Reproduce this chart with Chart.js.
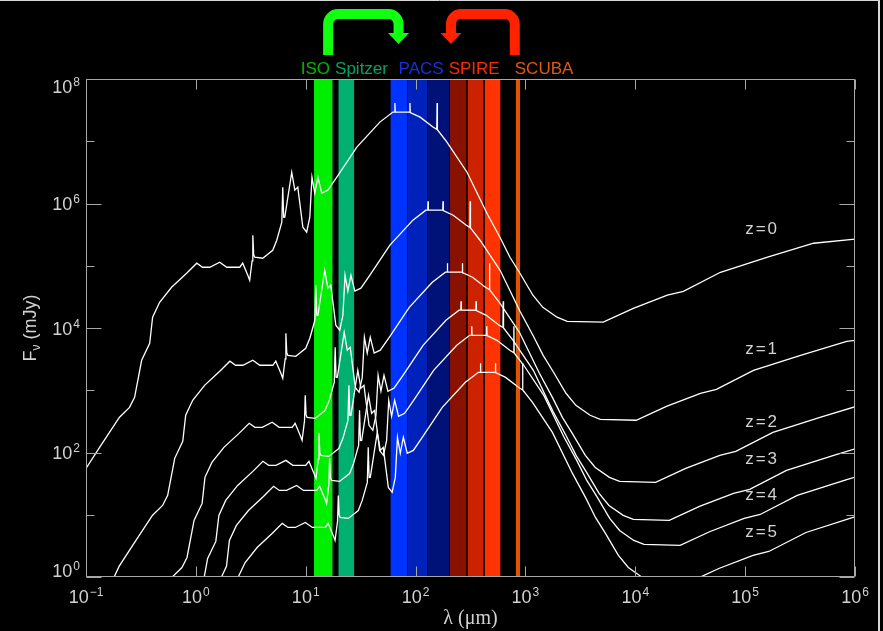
<!DOCTYPE html>
<html>
<head>
<meta charset="utf-8">
<title>Starburst SED at z = 0 - 5 with ISO / Spitzer / PACS / SPIRE / SCUBA bands</title>
<script src="https://cdn.jsdelivr.net/npm/chart.js@4.4.1/dist/chart.umd.min.js"></script>
<style>
  html, body { margin: 0; padding: 0; background: #000; }
  canvas { display: block; }
</style>
</head>
<body>
<canvas id="sed-chart" width="883" height="631"></canvas>
<script>
// SED curves: wavelength (um) and flux density (mJy)
const z0Wave = [0.1, 0.133, 0.201, 0.249, 0.277, 0.321, 0.380, 0.404, 0.468, 0.601, 0.824, 1.02, 1.15, 1.34, 1.65, 1.91, 2.51, 2.67, 2.97, 3.09, 3.25, 3.30, 3.36, 3.44, 4.06, 5.01, 5.45, 6.06, 6.18, 6.30, 6.45, 7.46, 7.96, 8.47, 9.42, 10.2, 10.9, 11.4, 12.1, 12.9, 14.0, 15.9, 19.2, 29.2, 47.3, 62.2, 64.5, 64.9, 65.3, 88.4, 88.9, 89.4, 110, 144, 156, 157, 158, 193, 294, 446, 586, 723, 891, 1170, 1440, 1940, 2400, 5110, 9600, 19600, 27400, 59600, 160000, 420000, 1000000];
const z0Flux = [55.5, 121, 366, 531, 769, 3030, 5680, 14900, 25900, 45100, 75800, 110000, 94600, 94600, 114000, 94600, 94600, 110000, 70300, 58500, 120000, 309000, 150000, 137000, 132000, 177000, 257000, 500000, 1830000, 600000, 602000, 3180000, 1640000, 1830000, 416000, 346000, 602000, 2650000, 1470000, 2650000, 1470000, 1640000, 2650000, 8040000, 20300000, 29400000, 29500000, 41000000, 29500000, 29400000, 41000000, 29000000, 24400000, 16900000, 15500000, 41000000, 15300000, 9680000, 3180000, 698000, 287000, 137000, 75800, 33600, 21500, 14900, 12800, 12400, 20700, 33600, 38900, 78500, 137000, 230000, 267000];

const z1Wave = [0.17, 0.2, 0.266, 0.402, 0.498, 0.554, 0.642, 0.76, 0.808, 0.936, 1.2, 1.65, 2.04, 2.3, 2.68, 3.3, 3.82, 5.02, 5.34, 5.94, 6.18, 6.5, 6.6, 6.72, 6.88, 8.12, 10.0, 10.9, 12.12, 12.36, 12.6, 12.9, 14.9, 15.9, 16.9, 18.8, 20.4, 21.8, 22.8, 24.2, 25.8, 28.0, 31.8, 38.4, 58.4, 94.6, 124, 129, 129.8, 130.6, 176.8, 177.8, 178.8, 220, 288, 312, 314, 316, 386, 588, 892, 1170, 1450, 1780, 2340, 2880, 3880, 4800, 10200, 19200, 39200, 54800, 119000, 320000, 840000, 2000000];
const z1Flux = [0.8, 1.48, 3.22, 9.74, 14.1, 20.5, 80.6, 151, 396, 689, 1200, 2020, 2930, 2520, 2520, 3030, 2520, 2520, 2930, 1870, 1560, 3190, 8220, 3990, 3640, 3510, 4710, 6840, 13300, 48700, 16000, 16000, 84600, 43600, 48700, 11100, 9200, 16000, 70500, 39100, 70500, 39100, 43600, 70500, 214000, 540000, 782000, 785000, 1090000, 785000, 782000, 1090000, 771000, 649000, 450000, 412000, 1090000, 407000, 257000, 84600, 18600, 7630, 3640, 2020, 894, 572, 396, 340, 330, 551, 894, 1030, 2090, 3640, 6120, 7100];

const z2Wave = [0.3, 0.399, 0.603, 0.747, 0.831, 0.963, 1.14, 1.21, 1.40, 1.80, 2.47, 3.06, 3.45, 4.02, 4.95, 5.73, 7.53, 8.01, 8.91, 9.27, 9.75, 9.9, 10.08, 10.3, 12.2, 15.0, 16.4, 18.18, 18.54, 18.9, 19.4, 22.4, 23.9, 25.4, 28.3, 30.6, 32.7, 34.2, 36.3, 38.7, 42.0, 47.7, 57.6, 87.6, 142, 187, 193.5, 194.7, 195.9, 265.2, 266.7, 268.2, 330, 432, 468, 471, 474, 579, 882, 1340, 1760, 2170, 2670, 3510, 4320, 5820, 7200, 15300, 28800, 58800, 82200, 179000, 480000, 1260000, 3000000];
const z2Flux = [0.149, 0.324, 0.981, 1.42, 2.06, 8.12, 15.2, 39.9, 69.4, 121, 203, 295, 254, 254, 306, 254, 254, 295, 188, 157, 322, 828, 402, 367, 354, 474, 689, 1340, 4900, 1610, 1610, 8520, 4400, 4900, 1110, 927, 1610, 7100, 3940, 7100, 3940, 4400, 7100, 21500, 54400, 78800, 79100, 110000, 79100, 78800, 110000, 77700, 65400, 45300, 41500, 110000, 41000, 25900, 8520, 1870, 769, 367, 203, 90.0, 57.6, 39.9, 34.3, 33.2, 55.5, 90.0, 104, 210, 367, 616, 716];

const z3Wave = [0.4, 0.532, 0.804, 0.996, 1.11, 1.28, 1.52, 1.62, 1.87, 2.40, 3.30, 4.08, 4.60, 5.36, 6.60, 7.64, 10.0, 10.7, 11.9, 12.4, 13.0, 13.2, 13.44, 13.8, 16.2, 20.0, 21.8, 24.24, 24.72, 25.2, 25.8, 29.8, 31.8, 33.9, 37.7, 40.8, 43.6, 45.6, 48.4, 51.6, 56.0, 63.6, 76.8, 117, 189, 249, 258, 259.6, 261.2, 353.6, 355.6, 357.6, 440, 576, 624, 628, 632, 772, 1180, 1780, 2340, 2890, 3560, 4680, 5760, 7760, 9600, 20400, 38400, 78400, 110000, 238000, 640000, 1680000, 4000000];
const z3Flux = [0.0364, 0.0794, 0.240, 0.348, 0.504, 1.99, 3.73, 9.77, 17.0, 29.6, 49.7, 72.2, 62.1, 62.1, 74.8, 62.1, 62.1, 72.2, 46.1, 38.4, 78.7, 203, 98.4, 89.9, 86.6, 116, 169, 328, 1200, 394, 395, 2090, 1080, 1200, 273, 227, 395, 1740, 964, 1740, 964, 1080, 1740, 5270, 13300, 19300, 19400, 26900, 19400, 19300, 26900, 19000, 16000, 11100, 10200, 26900, 10000, 6350, 2090, 458, 188, 89.9, 49.7, 22.0, 14.1, 9.77, 8.40, 8.13, 13.6, 22.0, 25.5, 51.5, 89.9, 151, 175];

const z4Wave = [0.5, 0.665, 1.005, 1.245, 1.385, 1.605, 1.90, 2.02, 2.34, 3.01, 4.12, 5.10, 5.75, 6.70, 8.25, 9.55, 12.6, 13.4, 14.9, 15.5, 16.25, 16.5, 16.8, 17.2, 20.3, 25.1, 27.3, 30.3, 30.9, 31.5, 32.3, 37.3, 39.8, 42.4, 47.1, 51.0, 54.5, 57.0, 60.5, 64.5, 70.0, 79.5, 96.0, 146, 237, 311, 322.5, 324.5, 326.5, 442, 444.5, 447, 550, 720, 780, 785, 790, 965, 1470, 2230, 2930, 3620, 4460, 5850, 7200, 9700, 12000, 25600, 48000, 98000, 137000, 298000, 800000, 2100000, 5000000];
const z4Flux = [0.0144, 0.0315, 0.0952, 0.138, 0.200, 0.788, 1.48, 3.87, 6.73, 11.7, 19.7, 28.6, 24.6, 24.6, 29.6, 24.6, 24.6, 28.6, 18.3, 15.2, 31.2, 80.3, 39.0, 35.6, 34.3, 46.0, 66.8, 130, 476, 156, 157, 827, 426, 476, 108, 90.0, 157, 689, 382, 689, 382, 426, 689, 2090, 5280, 7640, 7670, 10700, 7670, 7640, 10700, 7540, 6340, 4390, 4030, 10700, 3980, 2520, 827, 181, 74.6, 35.6, 19.7, 8.74, 5.59, 3.87, 3.33, 3.22, 5.38, 8.74, 10.1, 20.4, 35.6, 59.8, 69.4];

const z5Wave = [0.6, 0.798, 1.206, 1.494, 1.662, 1.926, 2.28, 2.42, 2.81, 3.61, 4.94, 6.12, 6.90, 8.04, 9.90, 11.5, 15.1, 16.0, 17.8, 18.5, 19.5, 19.8, 20.16, 20.6, 24.4, 30.1, 32.7, 36.36, 37.08, 37.8, 38.7, 44.8, 47.8, 50.8, 56.5, 61.2, 65.4, 68.4, 72.6, 77.4, 84.0, 95.4, 115, 175, 284, 373, 387, 389.4, 391.8, 530.4, 533.4, 536.4, 660, 864, 936, 942, 948, 1160, 1760, 2680, 3520, 4340, 5350, 7020, 8640, 11600, 14400, 30700, 57600, 118000, 164000, 358000, 960000, 2520000, 6000000];
const z5Flux = [0.00367, 0.0080, 0.0242, 0.0351, 0.0508, 0.200, 0.375, 0.985, 1.71, 2.98, 5.01, 7.27, 6.25, 6.25, 7.54, 6.25, 6.25, 7.27, 4.65, 3.87, 7.93, 20.4, 9.92, 9.06, 8.73, 11.7, 17.0, 33.1, 121, 39.7, 39.8, 210, 108, 121, 27.5, 22.9, 39.8, 175, 97.2, 175, 97.2, 108, 175, 531, 1340, 1940, 1950, 2710, 1950, 1940, 2710, 1920, 1610, 1120, 1020, 2710, 1010, 640, 210, 46.1, 19.0, 9.06, 5.01, 2.22, 1.42, 0.985, 0.846, 0.820, 1.37, 2.22, 2.57, 5.19, 9.06, 15.2, 17.6];

// filter bands (um)
const bandNames = ['ISO 15', 'MIPS 24', 'PACS 70', 'PACS 100', 'PACS 160', 'SPIRE 250', 'SPIRE 350', 'SPIRE 500', 'SCUBA 850'];
const bandLow = [11.9, 19.8, 59, 84, 128, 204, 297, 425, 815];
const bandHigh = [17.6, 27.7, 84, 128, 204, 291, 416, 594, 898];
const bandColors = ['#00ee00', '#00b070', '#0033ff', '#0022bb', '#001177', '#881100', '#cc2200', '#ff3300', '#dd5500'];

// instrument names over the plot
const instrumentNames = ['ISO', 'Spitzer', 'PACS', 'SPIRE', 'SCUBA'];
const instrumentWave = [9.0, 18.5, 70, 200, 800];
const instrumentColors = ['#00b800', '#00a468', '#1133e0', '#ff2a00', '#e05a10'];

// arrows: from band -> to band (um)
const arrowFrom = [16, 800];
const arrowTo = [70, 210];
const arrowColors = ['#11ff11', '#ff2200'];

// redshift labels
const redshiftNames = ['z=0', 'z=1', 'z=2', 'z=3', 'z=4', 'z=5'];
const redshiftLabelFlux = [386000, 4550, 305, 77.5, 20.4, 5.19];
const redshiftLabelWave = 100000;

// axes
const xTickExponents = [-1, 0, 1, 2, 3, 4, 5, 6];
const yTickExponents = [0, 1, 2, 3, 4, 5, 6, 7, 8];
const yLabelExponents = [0, 2, 4, 6, 8];

const textColor = '#d2d2d2';
const axisColor = '#a8a8a8';
const sans = '"Liberation Sans", Arial, sans-serif';

const curves = [[z0Wave, z0Flux], [z1Wave, z1Flux], [z2Wave, z2Flux], [z3Wave, z3Flux], [z4Wave, z4Flux], [z5Wave, z5Flux]];

const sedSets = curves.map((c, k) => ({
    label: redshiftNames[k],
    data: c[0].map((w, i) => ({ x: w, y: c[1][i] })),
    borderColor: '#ffffff',
    borderWidth: 1.3,
    pointRadius: 0,
    tension: 0,
    fill: false,
    order: 0
}));

const bandSets = bandLow.map((lo, i) => ({
    label: bandNames[i],
    data: [{ x: lo, y: 1e8 }, { x: bandHigh[i], y: 1e8 }],
    borderColor: 'rgba(0,0,0,0)',
    borderWidth: 0,
    backgroundColor: bandColors[i],
    pointRadius: 0,
    fill: 'start',
    order: 1
}));

function expText(e) {
    return e < 0 ? '\u2212' + (-e) : String(e);
}

// draws "10" with a raised exponent, returns nothing
function drawPower(ctx, e, xPos, base, align) {
    const sup = expText(e);
    ctx.font = '18px ' + sans;
    const wBase = ctx.measureText('10').width;
    ctx.font = '12px ' + sans;
    const wSup = ctx.measureText(sup).width;
    const total = wBase + 1 + wSup;
    const left = align === 'center' ? xPos - total / 2 : xPos - total;
    ctx.textAlign = 'left';
    ctx.textBaseline = 'alphabetic';
    ctx.font = '18px ' + sans;
    ctx.fillText('10', left, base);
    ctx.font = '12px ' + sans;
    ctx.fillText(sup, left + wBase + 1, base - 7);
}

const decorations = {
    id: 'decorations',
    beforeDraw(chart) {
        const ctx = chart.ctx;
        ctx.save();
        ctx.fillStyle = '#000';
        ctx.fillRect(0, 0, chart.width, chart.height);
        ctx.restore();
    },
    afterDraw(chart) {
        const ctx = chart.ctx;
        const a = chart.chartArea;
        const xs = chart.scales.x;
        const ys = chart.scales.y;
        const L = Math.round(a.left) + 0.5, R = Math.round(a.right) - 0.5;
        const T = Math.round(a.top) + 0.5, B = Math.round(a.bottom) - 0.5;
        ctx.save();

        // frame + inward ticks
        ctx.strokeStyle = axisColor;
        ctx.lineWidth = 1;
        ctx.beginPath();
        ctx.rect(L, T, R - L, B - T);
        xTickExponents.forEach(e => {
            const px = Math.round(xs.getPixelForValue(Math.pow(10, e))) + 0.5;
            ctx.moveTo(px, B); ctx.lineTo(px, B - 10);
            ctx.moveTo(px, T); ctx.lineTo(px, T + 10);
        });
        yTickExponents.forEach(e => {
            const py = Math.round(ys.getPixelForValue(Math.pow(10, e))) + 0.5;
            const len = e % 2 === 0 ? 15 : 8;
            ctx.moveTo(L, py); ctx.lineTo(L + len, py);
            ctx.moveTo(R, py); ctx.lineTo(R - len, py);
        });
        ctx.stroke();

        // tick labels
        ctx.fillStyle = textColor;
        xTickExponents.forEach(e => {
            drawPower(ctx, e, xs.getPixelForValue(Math.pow(10, e)), a.bottom + 26, 'center');
        });
        yLabelExponents.forEach(e => {
            const py = ys.getPixelForValue(Math.pow(10, e));
            const base = Math.min(Math.max(py + 6.5, a.top + 14), a.bottom);
            drawPower(ctx, e, a.left - 6, base, 'right');
        });

        // axis titles
        ctx.font = '20px "Liberation Serif", "Times New Roman", serif';
        ctx.textAlign = 'center';
        ctx.textBaseline = 'alphabetic';
        ctx.fillText('\u03bb (\u03bcm)', (a.left + a.right) / 2, a.bottom + 47);

        ctx.save();
        ctx.translate(36, (a.top + a.bottom) / 2);
        ctx.rotate(-Math.PI / 2);
        ctx.font = '18px ' + sans;
        const wF = ctx.measureText('F').width;
        const wRest = ctx.measureText(' (mJy)').width;
        ctx.font = '12px ' + sans;
        const wNu = ctx.measureText('\u03bd').width;
        let sx = -(wF + wNu + wRest) / 2;
        ctx.textAlign = 'left';
        ctx.font = '18px ' + sans;
        ctx.fillText('F', sx, 0);
        ctx.font = '12px ' + sans;
        ctx.fillText('\u03bd', sx + wF, 4);
        ctx.font = '18px ' + sans;
        ctx.fillText(' (mJy)', sx + wF + wNu, 0);
        ctx.restore();

        // redshift labels
        ctx.font = '17px ' + sans;
        ctx.textAlign = 'left';
        ctx.textBaseline = 'middle';
        if ('letterSpacing' in ctx) ctx.letterSpacing = '2px';
        redshiftNames.forEach((name, i) => {
            ctx.fillText(name, xs.getPixelForValue(redshiftLabelWave), ys.getPixelForValue(redshiftLabelFlux[i]));
        });
        if ('letterSpacing' in ctx) ctx.letterSpacing = '0px';

        // instrument names
        ctx.font = '17px ' + sans;
        ctx.textBaseline = 'alphabetic';
        instrumentNames.forEach((name, i) => {
            ctx.fillStyle = instrumentColors[i];
            ctx.fillText(name, xs.getPixelForValue(instrumentWave[i]), a.top - 5);
        });

        // arrows linking the instruments
        const stemBottom = a.top - 24, barY = a.top - 65, headBase = a.top - 46, tip = a.top - 35;
        const r = 10;
        arrowFrom.forEach((w, i) => {
            const x1 = xs.getPixelForValue(w);
            const x2 = xs.getPixelForValue(arrowTo[i]);
            const dir = x2 > x1 ? 1 : -1;
            ctx.strokeStyle = arrowColors[i];
            ctx.fillStyle = arrowColors[i];
            ctx.lineWidth = 10;
            ctx.lineCap = 'butt';
            ctx.beginPath();
            ctx.moveTo(x1, stemBottom);
            ctx.lineTo(x1, barY + r);
            ctx.arcTo(x1, barY, x1 + dir * r, barY, r);
            ctx.lineTo(x2 - dir * r, barY);
            ctx.arcTo(x2, barY, x2, barY + r, r);
            ctx.lineTo(x2, headBase + 0.5);
            ctx.stroke();
            ctx.beginPath();
            ctx.moveTo(x2 - 10.5, headBase);
            ctx.lineTo(x2 + 10.5, headBase);
            ctx.lineTo(x2, tip);
            ctx.closePath();
            ctx.fill();
        });

        // outer picture border (top and right)
        ctx.strokeStyle = '#d8d8d8';
        ctx.lineWidth = 1;
        ctx.beginPath();
        ctx.moveTo(0, 0.5); ctx.lineTo(879, 0.5);
        ctx.stroke();
        ctx.lineWidth = 2;
        ctx.beginPath();
        ctx.moveTo(879, 0); ctx.lineTo(879, chart.height);
        ctx.stroke();

        ctx.restore();
    }
};

const chart = new Chart(document.getElementById('sed-chart'), {
    type: 'line',
    data: { datasets: sedSets.concat(bandSets) },
    options: {
        responsive: false,
        animation: false,
        events: [],
        devicePixelRatio: 1,
        layout: { padding: { left: 86, top: 79, right: 28, bottom: 54 } },
        plugins: { legend: { display: false }, tooltip: { enabled: false } },
        scales: {
            x: { type: 'logarithmic', min: 0.1, max: 1e6, display: false },
            y: { type: 'logarithmic', min: 1, max: 1e8, display: false }
        }
    },
    plugins: [decorations]
});
</script>
</body>
</html>
